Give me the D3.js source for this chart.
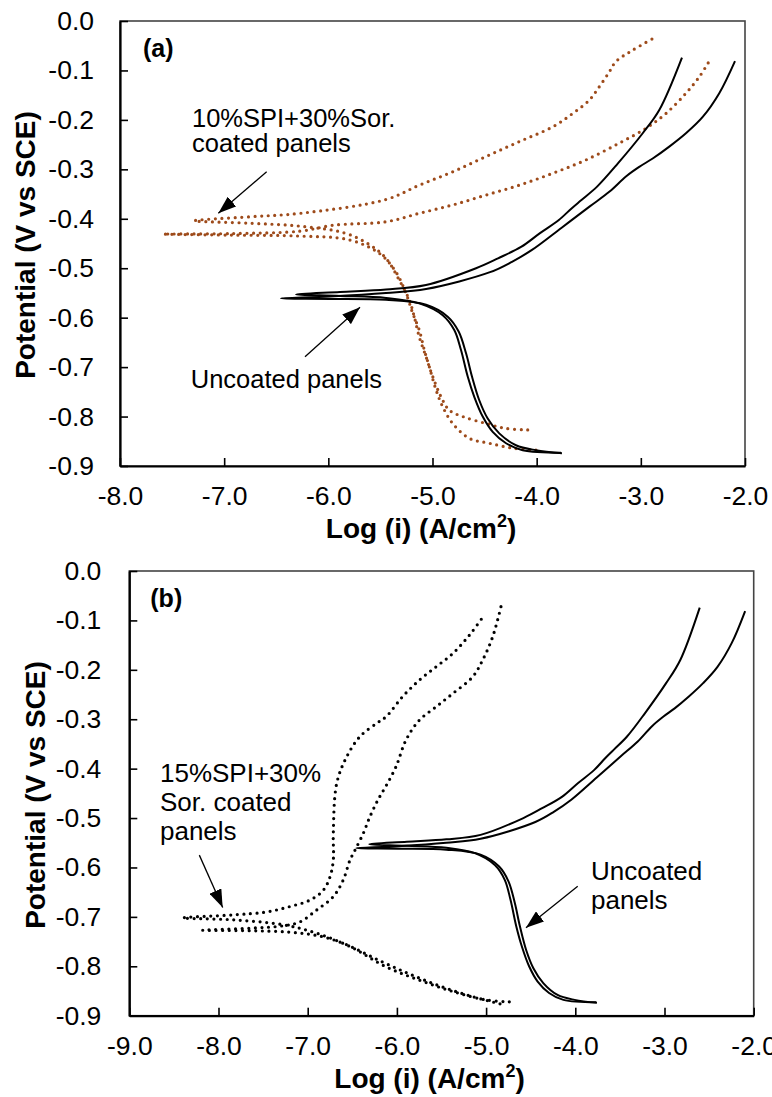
<!DOCTYPE html>
<html>
<head>
<meta charset="utf-8">
<script src="https://cdn.jsdelivr.net/npm/d3@7"></script>
<style>
  html, body { margin: 0; padding: 0; background: #fff; }
  svg { display: block; }
  text { font-family: "Liberation Sans", Arial, sans-serif; fill: #000; }
</style>
</head>
<body>
<svg id="chart" width="772" height="1097"></svg>
<script>
// ---------------- DATA ----------------
const yTickValues = [0, -0.1, -0.2, -0.3, -0.4, -0.5, -0.6, -0.7, -0.8, -0.9];
const yTickLabels = ["0.0", "-0.1", "-0.2", "-0.3", "-0.4", "-0.5", "-0.6", "-0.7", "-0.8", "-0.9"];
const xTickValuesA = [-8, -7, -6, -5, -4, -3, -2];
const xTickLabelsA = ["-8.0", "-7.0", "-6.0", "-5.0", "-4.0", "-3.0", "-2.0"];
const xTickValuesB = [-9, -8, -7, -6, -5, -4, -3, -2];
const xTickLabelsB = ["-9.0", "-8.0", "-7.0", "-6.0", "-5.0", "-4.0", "-3.0", "-2.0"];

// Uncoated panels (same data in both panels): [log i, E]
const uncoated1 = [
  [-3.766,-0.873],[-4.134,-0.868],[-4.294,-0.854],[-4.422,-0.831],[-4.518,-0.800],[-4.599,-0.760],
  [-4.662,-0.719],[-4.727,-0.665],[-4.791,-0.625],[-4.902,-0.595],[-5.127,-0.571],[-5.446,-0.560],
  [-5.888,-0.556],[-6.310,-0.553],
  [-5.888,-0.548],[-5.446,-0.543],[-5.062,-0.534],[-4.582,-0.500],[-4.371,-0.480],[-4.150,-0.457],
  [-3.968,-0.429],[-3.790,-0.403],[-3.665,-0.379],[-3.570,-0.362],[-3.420,-0.335],[-3.220,-0.288],
  [-2.982,-0.227],[-2.823,-0.180],[-2.605,-0.074]
];
const uncoated2 = [
  [-3.757,-0.874],[-4.007,-0.868],[-4.199,-0.858],[-4.359,-0.834],[-4.470,-0.804],[-4.551,-0.767],
  [-4.621,-0.719],[-4.678,-0.672],[-4.749,-0.628],[-4.854,-0.598],[-5.062,-0.574],[-5.446,-0.564],
  [-5.984,-0.562],[-6.454,-0.561],
  [-5.984,-0.557],[-5.446,-0.550],[-5.062,-0.542],[-4.448,-0.508],[-4.237,-0.487],[-4.045,-0.463],
  [-3.760,-0.418],[-3.490,-0.375],[-3.300,-0.345],[-3.140,-0.314],[-3.015,-0.295],[-2.886,-0.278],
  [-2.727,-0.254],[-2.567,-0.227],[-2.406,-0.194],[-2.247,-0.146],[-2.096,-0.081]
];

// 10%SPI+30%Sor. coated panels (panel a)
const coated10_1 = [
  [-4.086,-0.827],[-4.294,-0.824],[-4.486,-0.814],[-4.710,-0.800],[-4.839,-0.787],[-4.918,-0.760],
  [-4.998,-0.719],[-5.062,-0.679],[-5.127,-0.639],[-5.175,-0.598],[-5.223,-0.564],[-5.319,-0.524],
  [-5.446,-0.480],[-5.600,-0.453],[-5.840,-0.429],[-6.272,-0.415],[-6.752,-0.409],[-7.287,-0.404],
  [-6.752,-0.396],[-6.272,-0.389],[-5.446,-0.361],[-5.127,-0.332],[-4.806,-0.305],[-4.486,-0.274],
  [-4.167,-0.244],[-3.846,-0.214],[-3.654,-0.187],[-3.495,-0.160],[-3.399,-0.133],[-3.303,-0.103],
  [-3.239,-0.082],[-3.078,-0.059],[-2.854,-0.032]
];
const coated10_2 = [
  [-4.007,-0.868],[-4.230,-0.864],[-4.455,-0.854],[-4.647,-0.844],[-4.806,-0.814],[-4.902,-0.780],
  [-4.966,-0.746],[-5.031,-0.699],[-5.079,-0.665],[-5.127,-0.625],[-5.190,-0.591],[-5.254,-0.551],
  [-5.350,-0.508],[-5.504,-0.471],[-5.792,-0.443],[-6.272,-0.435],[-6.944,-0.433],[-7.584,-0.431],
  [-6.944,-0.430],[-6.272,-0.425],[-5.952,-0.413],[-5.446,-0.406],[-5.127,-0.389],[-4.806,-0.372],
  [-4.486,-0.352],[-4.167,-0.332],[-3.846,-0.308],[-3.527,-0.281],[-3.207,-0.247],[-2.951,-0.217],
  [-2.759,-0.187],[-2.567,-0.146],[-2.439,-0.113],[-2.343,-0.081]
];

// 15%SPI+30%Sor. coated panels (panel b)
const coated15_1 = [
  [-4.740,-0.872],[-5.001,-0.868],[-5.374,-0.851],[-5.749,-0.828],[-6.122,-0.801],[-6.526,-0.760],
  [-6.899,-0.733],[-7.274,-0.716],[-7.834,-0.706],[-8.401,-0.702],
  [-7.834,-0.696],[-7.460,-0.690],[-7.198,-0.679],[-6.974,-0.666],[-6.825,-0.646],[-6.750,-0.619],
  [-6.713,-0.585],[-6.713,-0.531],[-6.675,-0.430],[-6.563,-0.376],[-6.414,-0.335],[-6.226,-0.308],
  [-6.122,-0.295],[-5.935,-0.254],[-5.749,-0.221],[-5.562,-0.194],[-5.374,-0.167],[-5.188,-0.130],
  [-5.020,-0.089]
];
const coated15_2 = [
  [-4.844,-0.876],[-5.180,-0.860],[-5.517,-0.840],[-5.853,-0.816],[-6.189,-0.789],[-6.582,-0.755],
  [-6.862,-0.739],[-7.198,-0.731],[-7.647,-0.728],[-8.177,-0.727],
  [-7.647,-0.723],[-7.274,-0.718],[-7.086,-0.710],[-6.899,-0.686],[-6.713,-0.659],[-6.601,-0.625],
  [-6.526,-0.585],[-6.470,-0.565],[-6.377,-0.531],[-6.302,-0.497],[-6.212,-0.463],[-6.122,-0.435],
  [-6.010,-0.396],[-5.898,-0.342],[-5.749,-0.302],[-5.562,-0.275],[-5.374,-0.248],[-5.150,-0.214],
  [-5.038,-0.180],[-4.926,-0.133],[-4.833,-0.072]
];

// Annotations (data coordinates)
const annotA = [
  { lines: ["10%SPI+30%Sor.", "coated panels"], at: [-7.309, -0.215], from: [-6.592, -0.305], to: [-7.056, -0.389] },
  { lines: ["Uncoated panels"], at: [-7.321, -0.742], from: [-6.224, -0.679], to: [-5.696, -0.579] }
];
const annotB = [
  { lines: ["15%SPI+30%", "Sor. coated", "panels"], at: [-8.656, -0.427], from: [-8.215, -0.575], to: [-7.953, -0.681] },
  { lines: ["Uncoated", "panels"], at: [-3.824, -0.625], from: [-3.973, -0.638], to: [-4.553, -0.722] }
];

// ---------------- DRAWING ----------------
const svg = d3.select("#chart");
const defs = svg.append("defs");
defs.append("marker")
  .attr("id", "arrow")
  .attr("markerUnits", "userSpaceOnUse")
  .attr("viewBox", "0 0 18 13")
  .attr("refX", 18).attr("refY", 6.5)
  .attr("markerWidth", 18).attr("markerHeight", 13)
  .attr("orient", "auto")
  .append("path").attr("d", "M0,0 L18,6.5 L0,13 Z").attr("fill", "#000");

function panel(cfg) {
  const x = d3.scaleLinear().domain(cfg.xDomain).range([cfg.left, cfg.right]);
  const y = d3.scaleLinear().domain([-0.9, 0]).range([cfg.bottom, cfg.top]);
  const g = svg.append("g");

  // frame (top/right)
  g.append("rect")
    .attr("x", cfg.left).attr("y", cfg.top)
    .attr("width", cfg.right - cfg.left).attr("height", cfg.bottom - cfg.top)
    .attr("fill", "none").attr("stroke", "#444").attr("stroke-width", 1.6);

  const line = d3.line().x(d => x(d[0])).y(d => y(d[1])).curve(d3.curveCatmullRom.alpha(0.5));

  // series
  cfg.dotted.forEach(s => {
    g.append("path").datum(s).attr("d", line)
      .attr("fill", "none").attr("stroke", cfg.dotColor)
      .attr("stroke-width", 3.2).attr("stroke-linecap", "round")
      .attr("stroke-dasharray", "0 6.6");
  });
  cfg.solid.forEach(s => {
    g.append("path").datum(s).attr("d", line)
      .attr("fill", "none").attr("stroke", "#000").attr("stroke-width", 2);
  });

  // axes
  const ya = g.append("g").attr("transform", `translate(${cfg.left},0)`)
    .call(d3.axisLeft(y).tickValues(yTickValues).tickSizeInner(-8).tickSizeOuter(0)
      .tickPadding(cfg.yPad).tickFormat((d, i) => yTickLabels[i]));
  const xa = g.append("g").attr("transform", `translate(0,${cfg.bottom})`)
    .call(d3.axisBottom(x).tickValues(cfg.xTicks).tickSizeInner(-8).tickSizeOuter(0)
      .tickPadding(cfg.xPad).tickFormat((d, i) => cfg.xLabels[i]));
  [ya, xa].forEach(a => {
    a.select(".domain").attr("stroke", "#000").attr("stroke-width", 2.2);
    a.selectAll(".tick line").attr("stroke", "#000").attr("stroke-width", 1.6);
    a.selectAll(".tick text").attr("font-size", 26.5)
      .attr("font-family", '"Liberation Sans", Arial, sans-serif').attr("fill", "#000");
  });
  xa.selectAll(".tick text").attr("dy", "0.71em");

  // panel letter
  g.append("text").attr("x", cfg.left + cfg.letterDx).attr("y", cfg.top + 36)
    .attr("font-size", 25).attr("font-weight", "bold").text(cfg.letter);

  // axis titles
  const xt = g.append("text").attr("x", cfg.xTitle[0]).attr("y", cfg.xTitle[1])
    .attr("text-anchor", "middle").attr("font-size", 28).attr("font-weight", "bold");
  xt.append("tspan").text("Log (i) (A/cm");
  xt.append("tspan").attr("font-size", 18).attr("dy", -11).text("2");
  xt.append("tspan").attr("dy", 11).text(")");
  g.append("text").attr("transform", `translate(${cfg.yTitle[0]},${cfg.yTitle[1]}) rotate(-90)`)
    .attr("text-anchor", "middle").attr("font-size", 28).attr("font-weight", "bold")
    .text("Potential (V vs SCE)");

  // annotations
  cfg.annot.forEach(a => {
    const t = g.append("text").attr("x", x(a.at[0])).attr("y", y(a.at[1]))
      .attr("font-size", cfg.annotSize);
    a.lines.forEach((l, i) => {
      t.append("tspan").attr("x", x(a.at[0])).attr("dy", i === 0 ? 0 : cfg.lineGap).text(l);
    });
    g.append("line")
      .attr("x1", x(a.from[0])).attr("y1", y(a.from[1]))
      .attr("x2", x(a.to[0])).attr("y2", y(a.to[1]))
      .attr("stroke", "#000").attr("stroke-width", 1.3)
      .attr("marker-end", "url(#arrow)");
  });
}

panel({
  xDomain: [-8, -2], left: 120, right: 745, top: 21, bottom: 466,
  xTicks: xTickValuesA, xLabels: xTickLabelsA, yPad: 26, xPad: 20,
  solid: [uncoated1, uncoated2], dotted: [coated10_1, coated10_2], dotColor: "#9e4b1b",
  letter: "(a)", letterDx: 23, xTitle: [421, 538], yTitle: [35, 245],
  annot: annotA, lineGap: 25, annotSize: 25.5
});
panel({
  xDomain: [-9, -2], left: 129.3, right: 753.7, top: 571, bottom: 1015.7,
  xTicks: xTickValuesB, xLabels: xTickLabelsB, yPad: 28, xPad: 20,
  solid: [uncoated1, uncoated2], dotted: [coated15_1, coated15_2], dotColor: "#000",
  letter: "(b)", letterDx: 21, xTitle: [429.5, 1088], yTitle: [45, 795],
  annot: annotB, lineGap: 29, annotSize: 26
});
</script>
</body>
</html>
